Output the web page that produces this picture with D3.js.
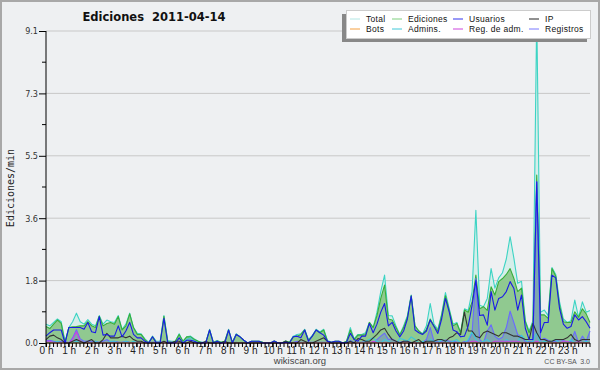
<!DOCTYPE html>
<html>
<head>
<meta charset="utf-8">
<script src="https://cdn.jsdelivr.net/npm/d3@7"></script>
<style>
body { margin: 0; background: #eef0f2; }
svg { display: block; font-family: "Liberation Sans", "DejaVu Sans", sans-serif; }
</style>
</head>
<body>
<div class="chart"></div>
<script>
// one value every 10 minutes, edits per minute
var total = [
  .55, .5, .6, .7, .62, .05,
  .45, .62, .87, .62, .55, .68,
  .55, .5, .8, .55, .67, .62,
  .6, .8, .4, .55, .87, .45,
  .28, .27, .12, .02, .2, .05,
  .05, .8, .07, .05, .05, .27,
  .05, .18, .2, .12, .05, .02,
  .02, .4, .02, .07, .02, .05,
  .4, .02, .27, .18, .08, 0,
  .05, .05, .05, .02, 0, 0,
  .06, 0, 0, .06, .02, .2,
  .25, .27, .4, .1, .22, .4,
  .32, .4, .07, .02, .05, .05,
  0, .05, .45, .12, .25, .25,
  .3, .6, .45, .9, 1.5, 1.98,
  .8, .79, .5, .25, .5, .8,
  1.4, .5, .35, .27, .5, 1.15,
  .55, .4, .85, 1.47, 1.0, .55,
  .6, .3, 1.0, .95, 1.5, 3.87,
  1.1, 1.06, 1.3, 2.17, 1.6, 1.9,
  2.05, 2.45, 3.1, 2.47, 1.74, 1.8,
  .65, .35, .65, 9.6, .9, .96,
  .8, 2.2, 2.0, 1.2, .7, .6,
  .65, 1.25, .75, 1.2, .9, .95
];
var ediciones = [
  .48, .42, .55, .67, .57, 0,
  .45, .47, .48, .5, .5, .62,
  .5, .45, .78, .5, .57, .6,
  .55, .77, .38, .5, .85, .45,
  .25, .25, .1, 0, .18, .02,
  .02, .78, .05, .02, .05, .25,
  .05, .18, .18, .1, .05, 0,
  .02, .38, .02, .06, .02, .05,
  .38, .02, .25, .18, .08, 0,
  .05, .05, .05, .02, 0, 0,
  .06, 0, 0, .06, .02, .18,
  .2, .25, .38, .08, .2, .38,
  .3, .38, .05, .02, .05, .05,
  0, .05, .38, .1, .23, .23,
  .25, .6, .45, .8, 1.3, 1.69,
  .7, .67, .45, .23, .45, .75,
  1.38, .5, .35, .25, .4, .7,
  .5, .35, .8, 1.38, .95, .5,
  .57, .3, .96, .9, 1.2, 1.98,
  1.0, 1.06, .95, 1.64, 1.4, 1.79,
  1.88, 2.0, 2.17, 1.88, 1.5, 1.6,
  .62, .3, .6, 4.9, .82, .82,
  .72, 2.17, 1.95, 1.1, .62, .6,
  .6, .91, .75, 1.0, .85, .6
];
var usuarios = [
  .2, .3, .38, .38, .38, 0,
  .45, .45, .45, .45, .4, .6,
  .33, .3, .77, .23, .25, .2,
  .2, .5, .18, .35, .6, .25,
  .15, .15, .05, 0, .18, 0,
  0, .72, 0, 0, 0, .15,
  0, .08, .08, .05, 0, 0,
  0, .38, 0, .05, 0, 0,
  .38, 0, .25, .18, .08, 0,
  .05, .05, .05, 0, 0, 0,
  .06, 0, 0, .02, 0, .18,
  .2, .15, .38, .05, .2, .38,
  .3, .23, .05, .02, .05, .05,
  0, .02, .28, .1, .05, .2,
  .2, .57, .3, .55, .9, 1.15,
  .5, .6, .35, .18, .35, .7,
  1.37, .38, .3, .25, .35, .67,
  .48, .28, .7, 1.3, .9, .38,
  .33, .18, .2, .5, 1.1, 1.83,
  .8, .82, .52, 1.5, .96, 1.3,
  1.35, 1.5, 1.79, 1.59, .96, 1.4,
  .43, .1, .1, 4.7, .3, .6,
  .6, 1.98, 1.9, 1.0, .55, .43,
  .48, .82, .67, .77, .62, .43
];
var ip = [
  .1, .2, .23, .15, .1, 0,
  0, .05, .1, .05, 0, .05,
  .1, 0, 0, .1, .28, .15,
  .15, .15, .2, .15, .2, .1,
  .05, .05, 0, 0, 0, 0,
  0, .05, 0, 0, .05, .05,
  0, 0, .05, 0, 0, 0,
  .05, 0, 0, 0, 0, .05,
  0, 0, 0, 0, 0, 0,
  0, 0, 0, 0, 0, 0,
  0, 0, 0, .05, 0, 0,
  0, .1, .05, 0, 0, .05,
  .1, .15, .05, 0, 0, 0,
  0, 0, .05, 0, .13, .1,
  .05, .05, .15, .25, .38, .43,
  .25, .1, .05, 0, .05, .05,
  0, .05, .1, 0, .05, .05,
  .05, .1, .1, .05, .15, .2,
  .3, .25, .9, .35, .35, .2,
  .15, .3, .35, .3, .25, .2,
  .3, .3, .25, .2, .2, .15,
  .1, .1, .57, .3, .1, .1,
  .05, .05, .1, .1, .1, .15,
  .25, .1, .05, .1, .1, .1
];
var registros = [
  .07, .08, .05, .03, .05, .05,
  0, .15, .39, .12, .05, .06,
  .05, .05, .02, .05, .1, .02,
  .05, .03, .02, .05, .02, 0,
  .03, .02, .02, .02, .02, .03,
  .03, .02, .02, .03, 0, .02,
  0, 0, .02, .02, 0, .02,
  0, .02, 0, .01, 0, 0,
  .02, 0, .02, 0, 0, 0,
  0, 0, 0, 0, 0, 0,
  0, 0, 0, 0, 0, .02,
  .05, .02, .02, .02, .02, .02,
  .02, .02, .02, 0, 0, 0,
  0, 0, .07, .02, .02, .02,
  .05, 0, 0, .1, .2, .29,
  .1, .12, .05, .02, .05, .05,
  .02, 0, 0, .02, .1, .45,
  .05, .05, .05, .09, .05, .05,
  .03, 0, .04, .05, .3, 1.89,
  .1, 0, .35, .53, .2, .11,
  .17, .45, .93, .59, .24, .2,
  .03, .05, .05, 4.7, .08, .14,
  .08, .03, .05, .1, .08, 0,
  .05, .34, 0, .2, .05, .35
];
var admins = [
  .05, 0, 0, .05, 0, 0,
  0, 0, .05, 0, 0, 0,
  0, .05, 0, 0, 0, .05,
  .05, 0, 0, .05, 0, .05,
  0, 0, 0, 0, 0, 0,
  0, 0, 0, 0, 0, 0,
  0, .1, .15, .05, 0, 0,
  0, 0, 0, 0, 0, 0,
  0, 0, 0, 0, 0, 0,
  0, 0, 0, 0, 0, 0,
  0, 0, 0, 0, 0, 0,
  0, 0, 0, 0, 0, 0,
  0, 0, 0, 0, 0, 0,
  0, 0, .05, 0, 0, 0,
  .05, .1, .15, .05, 0, .1,
  .05, 0, 0, .13, .1, .05,
  .18, .1, 0, .05, 0, .1,
  .05, 0, .1, .05, 0, .05,
  .1, 0, 0, .1, .33, .1,
  0, .05, .1, 0, 0, .05,
  0, .1, .05, 0, .05, .23,
  .1, 0, .05, .3, 0, .05,
  0, .05, .1, 0, .05, 0,
  .1, 0, .05, 0, .05, 0
];
var regAdm = [
  .05, .05, 0, 0, 0, 0,
  0, .1, .33, .05, 0, 0,
  0, 0, 0, 0, 0, 0,
  0, 0, 0, 0, 0, 0,
  0, 0, 0, 0, 0, 0,
  0, 0, 0, 0, 0, 0,
  0, 0, 0, 0, 0, 0,
  0, 0, 0, 0, 0, 0,
  0, 0, 0, 0, 0, 0,
  0, 0, 0, 0, 0, 0,
  0, 0, 0, 0, 0, 0,
  0, 0, 0, 0, 0, 0,
  0, 0, 0, 0, 0, 0,
  0, 0, 0, 0, 0, 0,
  0, 0, .05, 0, 0, 0,
  0, 0, 0, 0, 0, 0,
  0, 0, 0, 0, 0, 0,
  0, 0, 0, 0, 0, 0,
  0, 0, 0, 0, .05, .05,
  0, 0, 0, 0, .05, .05,
  .05, .05, .05, .05, .05, 0,
  0, 0, 0, .05, 0, 0,
  0, 0, 0, 0, .05, .05,
  0, 0, .05, 0, 0, 0
];
var bots = [
  0, 0, 0, 0, 0, 0,  0, 0, 0, 0, 0, 0,
  0, 0, 0, 0, 0, 0,  0, 0, 0, 0, 0, 0,
  0, 0, 0, 0, 0, 0,  0, 0, 0, 0, 0, 0,
  0, 0, 0, 0, 0, 0,  0, 0, 0, 0, 0, 0,
  0, 0, 0, 0, 0, 0,  0, 0, 0, 0, 0, 0,
  0, 0, 0, 0, 0, 0,  0, 0, 0, 0, 0, 0,
  0, 0, 0, 0, 0, 0,  0, 0, 0, 0, 0, 0,
  0, 0, 0, 0, 0, 0,  0, 0, 0, 0, 0, 0,
  0, 0, 0, 0, 0, 0,  0, 0, 0, 0, 0, 0,
  0, 0, 0, 0, 0, 0,  0, 0, 0, 0, 0, 0,
  0, 0, 0, 0, 0, 0,  0, 0, 0, 0, 0, 0,
  0, 0, 0, 0, 0, 0,  0, 0, 0, 0, 0, 0
];

var yTickValues = [0, 1.82, 3.64, 5.46, 7.28, 9.1];
var hourTicks = [0, 1, 2, 3, 4, 5, 6, 7, 8, 9, 10, 11, 12, 13, 14, 15, 16, 17, 18, 19, 20, 21, 22, 23];

var legendRows = [
    [['Total', '#b2e6e4'], ['Ediciones', '#7fcf7f'], ['Usuarios', '#3333ee'], ['IP', '#222222']],
    [['Bots', '#f5a040'], ['Admins.', '#40c8d8'], ['Reg. de adm.', '#cc44dd'], ['Registros', '#7878ff']]
];

var margin = {
    top: 31,
    right: 10,
    bottom: 27,
    left: 46
};
var width = 600 - margin.left - margin.right;
var height = 370 - margin.top - margin.bottom;

var root = d3.select('.chart')
    .append('svg')
    .attr('width', 600)
    .attr('height', 370);

root.append('rect')
    .attr('x', 1).attr('y', 1)
    .attr('width', 598).attr('height', 368)
    .attr('fill', '#eef0f2')
    .attr('stroke', '#a8a8a8')
    .attr('stroke-width', 2);

var svg = root.append('g')
    .attr('transform', 'translate(' + margin.left + ', ' + margin.top + ')');

var xScale = d3.scaleLinear()
    .domain([0, total.length - 1])
    .range([0, width]);
var hourScale = d3.scaleLinear()
    .domain([0, 24])
    .range([0, width]);
var yScale = d3.scaleLinear()
    .domain([0, yTickValues[yTickValues.length - 1]])
    .range([height, 0]);

// grid
svg.selectAll('.grid')
    .data(yTickValues.slice(1))
    .enter()
    .append('line')
    .attr('x1', 0).attr('x2', width)
    .attr('y1', d => yScale(d)).attr('y2', d => yScale(d))
    .attr('stroke', '#c8c8c8');

var area = d3.area()
    .x((d, i) => xScale(i))
    .y0(height)
    .y1(d => yScale(d));
var line = d3.line()
    .x((d, i) => xScale(i))
    .y(d => yScale(d));

// filled series
svg.append('path').datum(total).attr('d', area).attr('fill', '#d6eeea');
svg.append('path').datum(ediciones).attr('d', area).attr('fill', '#90c990');
svg.append('path').datum(registros).attr('d', area).attr('fill', '#5050ff').attr('fill-opacity', 0.28);

// lines
var lines = [
    [total, '#3cd4c4'],
    [ediciones, '#38ae38'],
    [registros, '#6a6aff'],
    [admins, '#3cc8dc'],
    [regAdm, '#cc44dd'],
    [bots, '#f5a040'],
    [ip, '#333333'],
    [usuarios, '#1a1ae6']
];
lines.forEach(function (l) {
    svg.append('path')
        .datum(l[0])
        .attr('d', line)
        .attr('fill', 'none')
        .attr('stroke', l[1])
        .attr('stroke-width', 1.1)
        .attr('stroke-linejoin', 'round');
});

// Y axis
var yAxis = d3.axisLeft(yScale)
    .tickValues(yTickValues)
    .tickSize(7)
    .tickPadding(1)
    .tickFormat(d3.format('.1f'));
var gy = svg.append('g').call(yAxis);
gy.select('.domain').remove();
gy.append('line').attr('x1', 0).attr('x2', 0).attr('y1', 0).attr('y2', height).attr('stroke', '#000');
gy.selectAll('text').attr('font-size', 9).attr('fill', '#333').attr('font-family', '"DejaVu Sans Condensed", sans-serif');

// minor y ticks
var minorY = yTickValues.slice(1).map((d, i) => (d + yTickValues[i]) / 2);
svg.selectAll('.minor-y')
    .data(minorY)
    .enter()
    .append('line')
    .attr('x1', -4).attr('x2', 0)
    .attr('y1', d => yScale(d)).attr('y2', d => yScale(d))
    .attr('stroke', '#000');

// X axis
var xAxis = d3.axisBottom(hourScale)
    .tickValues(hourTicks)
    .tickSize(4)
    .tickPadding(0)
    .tickFormat(d => d + ' h');
var gx = svg.append('g')
    .attr('transform', `translate(0, ${height})`)
    .call(xAxis);
gx.select('.domain').remove();
gx.append('line').attr('x1', 0).attr('x2', width).attr('stroke', '#000');
gx.selectAll('text').attr('font-size', 10).attr('fill', '#222');

// 10 minute ticks
svg.selectAll('.minor-x')
    .data(total.concat([0]))
    .enter()
    .append('line')
    .attr('x1', (d, i) => hourScale(i / 6)).attr('x2', (d, i) => hourScale(i / 6))
    .attr('y1', height).attr('y2', height + 4)
    .attr('stroke', '#000');

// titles
root.append('text')
    .attr('x', 154).attr('y', 21)
    .attr('text-anchor', 'middle')
    .attr('font-family', '"DejaVu Sans", sans-serif')
    .attr('font-weight', 'bold')
    .attr('font-size', 11.5)
    .attr('fill', '#111')
    .style('white-space', 'pre')
    .text('Ediciones  2011-04-14');

root.append('text')
    .attr('transform', 'translate(14, 188) rotate(-90)')
    .attr('text-anchor', 'middle')
    .attr('font-family', '"DejaVu Sans Mono", monospace')
    .attr('font-size', 10)
    .attr('fill', '#222')
    .text('Ediciones/min');

root.append('text')
    .attr('x', 300).attr('y', 364)
    .attr('text-anchor', 'middle')
    .attr('font-size', 9.5)
    .attr('fill', '#444')
    .text('wikiscan.org');

root.append('text')
    .attr('x', 590).attr('y', 364)
    .attr('text-anchor', 'end')
    .attr('font-size', 7)
    .attr('fill', '#555')
    .style('white-space', 'pre')
    .text('CC BY-SA  3.0');

// legend
var legend = root.append('g');
legend.append('rect')
    .attr('x', 342).attr('y', 14)
    .attr('width', 245).attr('height', 28)
    .attr('fill', '#888');
legend.append('rect')
    .attr('x', 346.5).attr('y', 10.5)
    .attr('width', 244).attr('height', 28)
    .attr('fill', '#fff')
    .attr('stroke', '#ccc');

var colX = [350, 392, 453, 529];
legendRows.forEach(function (row, r) {
    row.forEach(function (item, c) {
        var y = 19 + r * 10;
        legend.append('line')
            .attr('x1', colX[c]).attr('x2', colX[c] + 10)
            .attr('y1', y).attr('y2', y)
            .attr('stroke', item[1]);
        legend.append('text')
            .attr('x', colX[c] + 16).attr('y', y + 3)
            .attr('font-size', 8.5)
            .attr('letter-spacing', 0.3)
            .attr('fill', '#111')
            .text(item[0]);
    });
});
</script>
</body>
</html>
